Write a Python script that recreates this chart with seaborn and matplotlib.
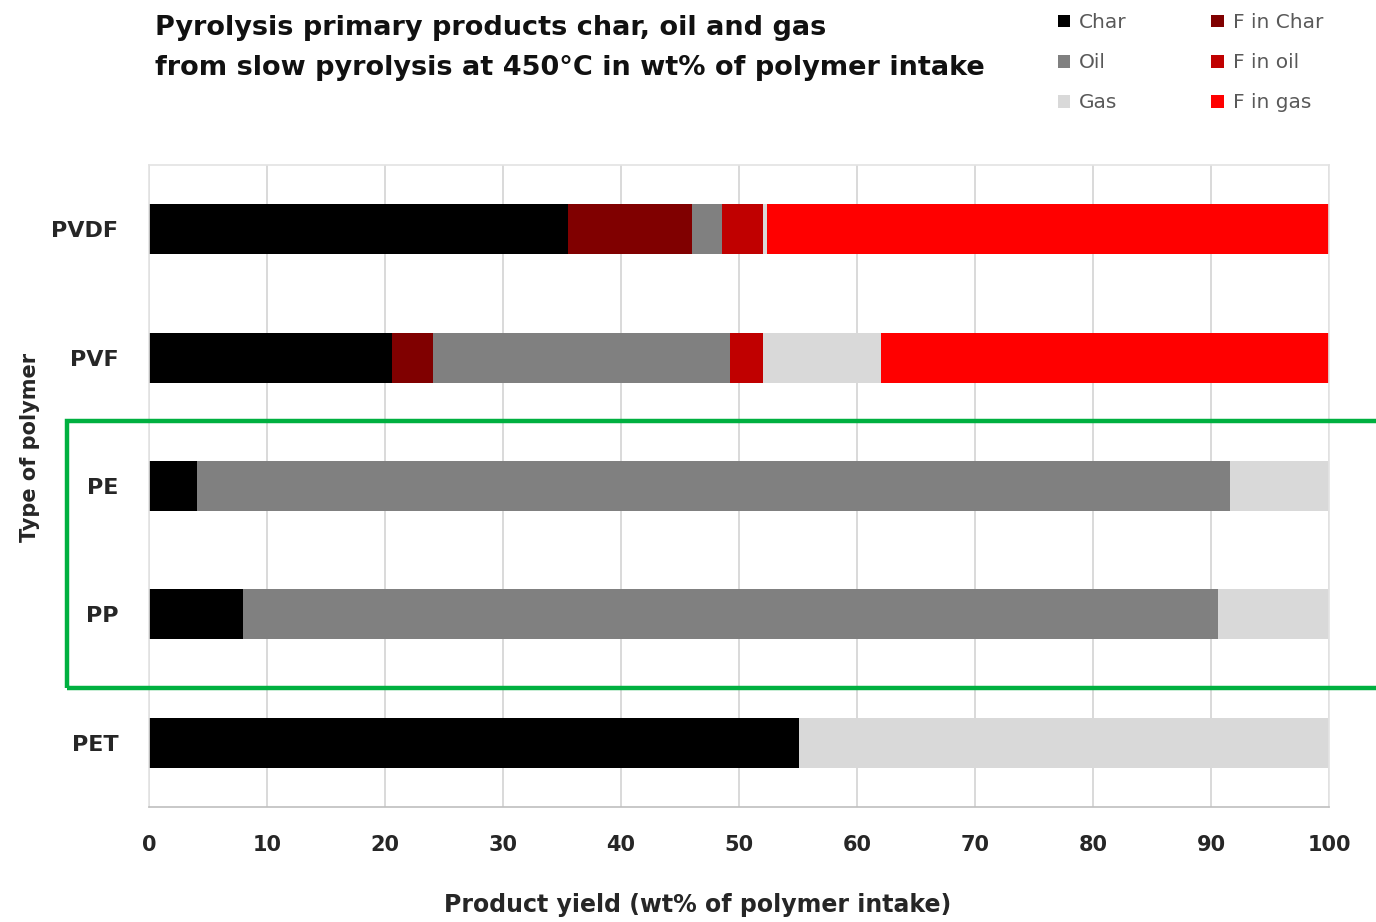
import matplotlib
matplotlib.use("Agg")
import matplotlib.pyplot as plt
from matplotlib.patches import Patch, Rectangle
from matplotlib.ticker import MultipleLocator
import numpy as np
import pandas as pd
import seaborn as sns

# data (wt% of polymer intake)
polymers = ["PVDF", "PVF", "PE", "PP", "PET"]
products = ["Char", "F in Char", "Oil", "F in oil", "Gas", "F in gas"]
char = [35.5, 20.6, 4.1, 8.0, 55.1]
f_char = [10.5, 3.5, 0.0, 0.0, 0.0]
oil = [2.6, 25.1, 87.5, 82.6, 0.0]
f_oil = [3.4, 2.8, 0.0, 0.0, 0.0]
gas = [0.4, 10.0, 8.4, 9.4, 44.9]
f_gas = [47.6, 38.0, 0.0, 0.0, 0.0]

colors = {
    "Char": "#000000",
    "F in Char": "#800000",
    "Oil": "#808080",
    "F in oil": "#c00000",
    "Gas": "#d9d9d9",
    "F in gas": "#ff0000",
}

df = pd.DataFrame({"Polymer": polymers, "Char": char, "F in Char": f_char,
                   "Oil": oil, "F in oil": f_oil, "Gas": gas, "F in gas": f_gas})
cum = df[products].cumsum(axis=1)
cum["Polymer"] = df["Polymer"]

sns.set_style("white")
plt.rcParams["font.family"] = ["DejaVu Sans"]

fig = plt.figure(figsize=(13.76, 9.22), dpi=100)
ax = fig.add_axes([149 / 1376, 1 - 807 / 922, 1180 / 1376, 642 / 922])

# stacked bars: draw cumulative totals, last segment first
for p in reversed(products):
    sns.barplot(data=cum, x=p, y="Polymer", orient="h", color=colors[p],
                width=0.39, linewidth=0, saturation=1, ax=ax)

ax.set_xlim(0, 100)
ax.set_ylim(4.5, -0.5)
ax.xaxis.set_major_locator(MultipleLocator(10))
ax.xaxis.set_minor_locator(MultipleLocator(5))
ax.grid(axis="x", which="major", color="#d9d9d9", linewidth=1.4)
ax.set_axisbelow(True)
for side in ["top", "right", "left"]:
    ax.spines[side].set_color("#e3e3e3")
    ax.spines[side].set_linewidth(1.2)
ax.spines["bottom"].set_color("#bfbfbf")
ax.spines["bottom"].set_linewidth(1.2)
ax.tick_params(axis="x", which="both", direction="in", color="#bfbfbf",
               labelsize=15, pad=20)
ax.tick_params(axis="x", which="major", length=9, width=1)
ax.tick_params(axis="x", which="minor", length=6, width=1)
ax.tick_params(axis="y", length=0, labelsize=16, pad=22)
for lab in ax.get_xticklabels() + ax.get_yticklabels():
    lab.set_fontweight("bold")

ax.set_xlabel("")
ax.set_ylabel("")
fig.text(698 / 1376, 1 - 905 / 922, "Product yield (wt% of polymer intake)",
         fontsize=17, fontweight="bold", ha="center", va="center")
fig.text(30 / 1376, 1 - 447 / 922, "Type of polymer", rotation=90,
         fontsize=15, fontweight="bold", ha="center", va="center")

fig.text(155 / 1376, 1 - 28 / 922, "Pyrolysis primary products char, oil and gas",
         fontsize=19.5, fontweight="bold", ha="left", va="center", color="#111111")
fig.text(155 / 1376, 1 - 68 / 922, "from slow pyrolysis at 450°C in wt% of polymer intake",
         fontsize=19.5, fontweight="bold", ha="left", va="center", color="#111111")

legend_order = ["Char", "Oil", "Gas", "F in Char", "F in oil", "F in gas"]
handles = [Patch(facecolor=colors[p], edgecolor="none", label=p) for p in legend_order]
fig.legend(handles=handles, ncol=2, loc="upper left",
           bbox_to_anchor=(1040 / 1376, 1 + 5 / 922), frameon=False,
           fontsize=14.5, handlelength=0.6, handleheight=0.6, handletextpad=0.45,
           columnspacing=4.2, labelspacing=1.05, labelcolor="#595959")

# green highlight box around the polyolefins
fig.add_artist(Rectangle((67 / 1376, 1 - 688 / 922), 1.0, 267 / 922,
                         transform=fig.transFigure, fill=False,
                         edgecolor="#00b040", linewidth=3.2))

fig.savefig("out.png", dpi=100)
